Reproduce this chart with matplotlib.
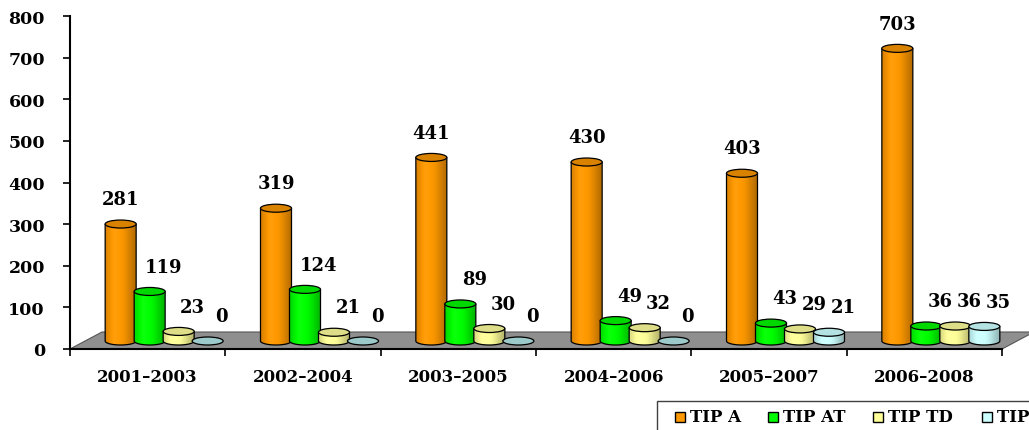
import numpy as np
import matplotlib
matplotlib.use('Agg')
import matplotlib.pyplot as plt
from matplotlib.patches import Polygon, Ellipse, Rectangle
from matplotlib.colors import to_rgb

# ---------------- data ----------------
categories = ['2001–2003', '2002–2004', '2003–2005', '2004–2006', '2005–2007', '2006–2008']
series_names = ['TIP A', 'TIP AT', 'TIP TD', 'TIP TDT']
tip_a = [281, 319, 441, 430, 403, 703]
tip_at = [119, 124, 89, 49, 43, 36]
tip_td = [23, 21, 30, 32, 29, 36]
tip_tdt = [0, 0, 0, 0, 21, 35]
series_values = [tip_a, tip_at, tip_td, tip_tdt]
y_ticks = [0, 100, 200, 300, 400, 500, 600, 700, 800]

# ---------------- style ----------------
face_colors = ['#FF9900', '#00FF00', '#FFFF99', '#CCFFFF']
top_colors = ['#D98200', '#00D800', '#DEDE88', '#B4E2E2']
zero_color = '#9CCACA'
floor_color = '#8F8F8F'

plt.rcParams['font.family'] = ['DejaVu Serif']
plt.rcParams['font.weight'] = 'bold'

W, H = 1029, 431
fig = plt.figure(figsize=(W / 100, H / 100), dpi=100)
ax = fig.add_axes([70 / W, 81 / H, 932 / W, 333 / H])
ax.set_xlim(0, len(categories))
ax.set_ylim(0, 800)

ppx = 932 / len(categories)   # pixels per x unit
ppy = 333 / 800               # pixels per y unit

floor_dx = 32 / ppx
floor_dy = 17 / ppy
base = 8 / ppy
bar_w = 31 / ppx
step = 29 / ppx
shift = 16.5 / ppx
ell_h = 8 / ppy

# floor
n = len(categories)
floor = Polygon([(0, 0), (n, 0), (n + floor_dx, floor_dy), (floor_dx, floor_dy)],
                closed=True, facecolor=floor_color, edgecolor='#555555', lw=0.8,
                zorder=1, clip_on=False)
ax.add_patch(floor)

def shade(c, s):
    c = np.array(c)
    if s <= 1:
        return c * s
    return c + (1 - c) * (s - 1)

prof_t = [0, 0.3, 0.6, 1.0]
prof_s = [0.84, 1.05, 0.97, 0.7]
N = 60
tt = np.linspace(0, 1, N)
ss = np.interp(tt, prof_t, prof_s)

z = 3
for gi in range(n):
    gc = gi + 0.5
    for si, vals in enumerate(series_values):
        v = vals[gi]
        cx = gc + shift + (si - 1.5) * step
        x0, x1 = cx - bar_w / 2, cx + bar_w / 2
        top = base + v
        t = np.linspace(np.pi, 2 * np.pi, 40)
        arc = np.column_stack([cx + bar_w / 2 * np.cos(t), base + ell_h / 2 * np.sin(t)])
        pts = np.vstack([[x0, top], arc, [x1, top]])
        body = Polygon(pts, closed=True, facecolor='none', edgecolor='black', lw=0.9, zorder=z + 1)
        if v > 0:
            col = to_rgb(face_colors[si])
            grad = np.array([[shade(col, s) for s in ss]])
            im = ax.imshow(grad, extent=[x0, x1, base - ell_h / 2, top], aspect='auto',
                           zorder=z, interpolation='bilinear')
            clipper = Polygon(pts, closed=True, facecolor='none', edgecolor='none',
                              transform=ax.transData)
            ax.add_patch(clipper)
            im.set_clip_path(clipper)
            ax.add_patch(body)
            tc = top_colors[si]
        else:
            tc = zero_color
        ax.add_patch(Ellipse((cx, top), bar_w, ell_h, facecolor=tc, edgecolor='black',
                             lw=0.9, zorder=z + 2))
        off = 0 if si == 0 else 14 / ppx
        ax.text(cx + off, top + 38, str(v), ha='center', va='bottom',
                fontsize=13, fontweight='bold', zorder=20)
        z += 3

ax.set_xlim(0, n)
ax.set_ylim(0, 800)

# axes styling
for s in ['top', 'right']:
    ax.spines[s].set_visible(False)
for s in ['left', 'bottom']:
    ax.spines[s].set_color('black')
    ax.spines[s].set_linewidth(1.5)
    ax.spines[s].set_zorder(50)
ax.set_yticks(y_ticks)
ax.set_yticklabels([str(v) for v in y_ticks], fontsize=12.5, fontweight='bold')
ax.tick_params(axis='y', direction='out', length=5, width=1.2, pad=13)
ax.set_xticks(range(n + 1))
ax.set_xticklabels([''] * (n + 1))
ax.set_xticks([i + 0.5 for i in range(n)], minor=True)
ax.set_xticklabels(categories, minor=True, fontsize=12, fontweight='bold')
ax.tick_params(axis='x', which='major', direction='out', length=5, width=1.2)
ax.tick_params(axis='x', which='minor', length=0, pad=14)
ax.patch.set_alpha(0)

# legend (drawn manually; extends past the right edge like the reference)
def fx(p):
    return p / W

def fy(p):
    return 1 - p / H

fig.patches.append(Rectangle((fx(657), fy(440)), fx(1100) - fx(657), fy(402) - fy(440),
                             transform=fig.transFigure, facecolor='white',
                             edgecolor='#404040', lw=1.0, zorder=1))
sq_left = [675, 768, 873, 982]
for i, name in enumerate(series_names):
    fig.patches.append(Rectangle((fx(sq_left[i]), fy(423)), 10 / W, 10 / H,
                                 transform=fig.transFigure, facecolor=face_colors[i],
                                 edgecolor='black', lw=1.0, zorder=2))
    fig.text(fx(sq_left[i] + 15), fy(418), name, ha='left', va='center',
             fontsize=12, fontweight='bold', zorder=3)

fig.savefig('out.png', dpi=100)
